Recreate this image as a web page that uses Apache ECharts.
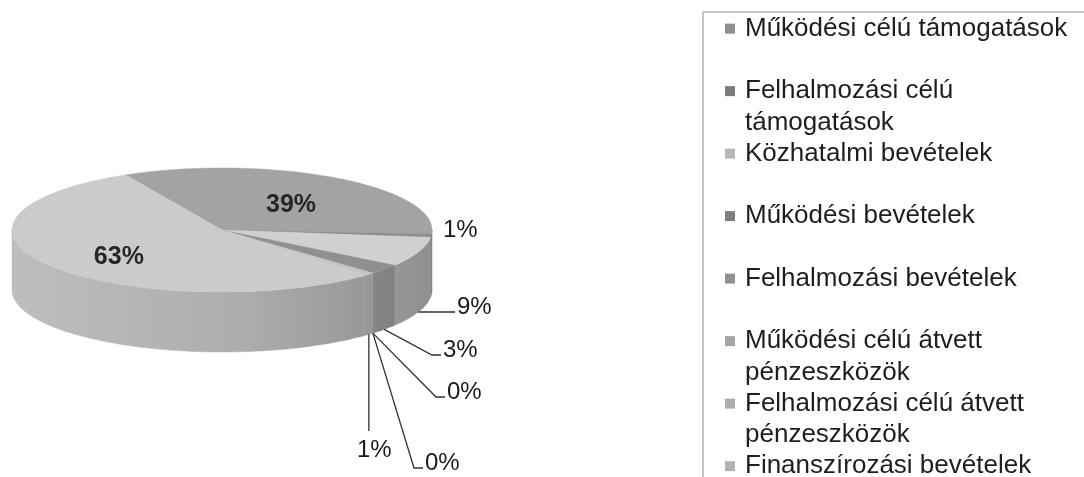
<!DOCTYPE html>
<html>
<head>
  <meta charset="utf-8">
  <title>Bevételek megoszlása</title>
  <script src="https://cdn.jsdelivr.net/npm/echarts@6/dist/echarts.min.js"></script>
  <style>
    html, body { margin: 0; padding: 0; background: #fff; }
    #chart { width: 1084px; height: 477px; }
  </style>
</head>
<body>
<div id="chart"></div>
<script>
  const categories = [
    'Működési célú támogatások',
    'Felhalmozási célú\ntámogatások',
    'Közhatalmi bevételek',
    'Működési bevételek',
    'Felhalmozási bevételek',
    'Működési célú átvett\npénzeszközök',
    'Felhalmozási célú átvett\npénzeszközök',
    'Finanszírozási bevételek'
  ];
  const shares = [39, 1, 9, 3, 0, 0, 1, 63];
  const sliceColors = ['#a3a3a3', '#8e8e8e', '#d0d0d0', '#909090', '#a5a5a5', '#bcbcbc', '#c6c6c6', '#cbcbcb'];

  const FONT = "'Liberation Sans', Arial, sans-serif";

  // tilted pie geometry
  const cx = 222, cy = 230, rx = 210, ry = 62, depth = 60;
  const startDeg = -27.3;

  // outside labels were dragged by hand in the original, keep them there
  const labelSpots = {
    1: { x: 443, y: 230, lead: 'none' },
    2: { x: 457, y: 307, lead: 'left' },
    3: { x: 443, y: 350, lead: 'left' },
    4: { x: 447, y: 392, lead: 'left' },
    5: { x: 425, y: 463, lead: 'left' },
    6: { x: 357, y: 450, lead: 'top' }
  };

  const total = shares.reduce((a, b) => a + b, 0);
  const spans = [];
  let acc = startDeg;
  shares.forEach(v => {
    const a = v / total * 360;
    spans.push([acc, acc + a]);
    acc += a;
  });

  function pt(deg, dz, k) {
    const r = deg * Math.PI / 180;
    k = k || 1;
    return [cx + k * rx * Math.sin(r), cy - k * ry * Math.cos(r) + dz];
  }

  function arc(a0, a1, dz) {
    const pts = [];
    const n = Math.max(2, Math.ceil(a1 - a0));
    for (let j = 0; j <= n; j++) pts.push(pt(a0 + (a1 - a0) * j / n, dz));
    return pts;
  }

  function rgb(hex) {
    const n = parseInt(hex.slice(1), 16);
    return [(n >> 16) & 255, (n >> 8) & 255, n & 255];
  }

  function shade(hex, f) {
    return 'rgb(' + rgb(hex).map(v => Math.round(v * f)).join(',') + ')';
  }

  // side wall: mostly a common grey, lit from the left
  function wallFill(col) {
    const base = rgb(col).map(v => Math.round(v * 0.4 + 0xb8 * 0.6));
    const hex = '#' + base.map(v => v.toString(16).padStart(2, '0')).join('');
    return {
      type: 'linear', global: true,
      x: cx - rx, y: 0, x2: cx + rx, y2: 0,
      colorStops: [
        { offset: 0, color: shade(hex, 0.99) },
        { offset: 0.55, color: shade(hex, 0.9) },
        { offset: 1, color: shade(hex, 0.74) }
      ]
    };
  }

  function renderItem(params, api) {
    const i = params.dataIndex;
    const a0 = spans[i][0], a1 = spans[i][1];
    const col = sliceColors[i];
    const children = [];

    if (a1 > a0) {
      const lo = Math.max(a0, 90), hi = Math.min(a1, 270);
      if (hi > lo) {
        const wall = arc(lo, hi, 0).concat(arc(lo, hi, depth).reverse());
        const fill = wallFill(col);
        children.push({
          type: 'polygon', z2: 1,
          shape: { points: wall },
          style: { fill: fill, stroke: fill, lineWidth: 0.5 }
        });
      }
      children.push({
        type: 'polygon', z2: 2,
        shape: { points: [[cx, cy]].concat(arc(a0, a1, 0)) },
        style: { fill: col, stroke: col, lineWidth: 0.5 }
      });
    }

    const txt = api.value(1) + '%';
    const mid = (a0 + a1) / 2;
    const spot = labelSpots[i];
    if (!spot) {
      const p = pt(mid, 6, 0.6);
      children.push({
        type: 'text', z2: 10,
        style: {
          x: p[0], y: p[1], text: txt, fill: '#262626',
          font: 'bold 25px ' + FONT, align: 'center', verticalAlign: 'middle'
        }
      });
    } else {
      const anchor = pt(mid, depth);
      if (spot.lead === 'left') {
        children.push({
          type: 'polyline', z2: 9,
          shape: { points: [anchor, [spot.x - 11, spot.y + 5], [spot.x - 2, spot.y + 5]] },
          style: { stroke: '#333', lineWidth: 1.3, fill: null }
        });
      } else if (spot.lead === 'top') {
        children.push({
          type: 'polyline', z2: 9,
          shape: { points: [anchor, [anchor[0], spot.y - 19]] },
          style: { stroke: '#333', lineWidth: 1.3, fill: null }
        });
      }
      children.push({
        type: 'text', z2: 10,
        style: {
          x: spot.x, y: spot.y, text: txt, fill: '#1a1a1a',
          font: '24px ' + FONT, align: 'left', verticalAlign: 'middle'
        }
      });
    }
    return { type: 'group', children: children };
  }

  const legendRich = {
    t: { fontFamily: FONT, fontSize: 26, color: '#1e1e1e', lineHeight: 31.25 },
    g: { width: 10 },
    p: { width: 20 }
  };
  sliceColors.forEach((c, i) => {
    legendRich['s' + i] = { width: 10, height: 10, backgroundColor: shade(c, 0.88) };
  });

  const chart = echarts.init(document.getElementById('chart'), null, { renderer: 'canvas' });
  chart.setOption({
    animation: false,
    backgroundColor: '#fff',
    legend: {
      orient: 'vertical',
      left: 703, top: 12, height: 700,
      padding: [1, 60, 40, 17],
      borderColor: '#8c8c8c', borderWidth: 1,
      itemWidth: 0, itemHeight: 0, itemGap: 0,
      icon: 'rect',
      selectedMode: false,
      textStyle: { lineHeight: 31.25, rich: legendRich },
      formatter: function (name) {
        const i = categories.indexOf(name);
        const lines = name.split('\n');
        return '{s' + i + '|}{g|}{t|' + lines[0] + '}\n{p|}{t|' + (lines[1] || ' ') + '}';
      }
    },
    series: [
      {
        type: 'custom',
        coordinateSystem: 'none',
        silent: true,
        data: shares.map((v, i) => [i, v]),
        renderItem: renderItem
      },
      {
        // only feeds the legend
        type: 'pie',
        radius: [0, 0],
        center: [-50, -50],
        silent: true,
        label: { show: false },
        labelLine: { show: false },
        data: categories.map((n, i) => ({ name: n, value: shares[i], itemStyle: { color: sliceColors[i] } }))
      }
    ]
  });
</script>
</body>
</html>
